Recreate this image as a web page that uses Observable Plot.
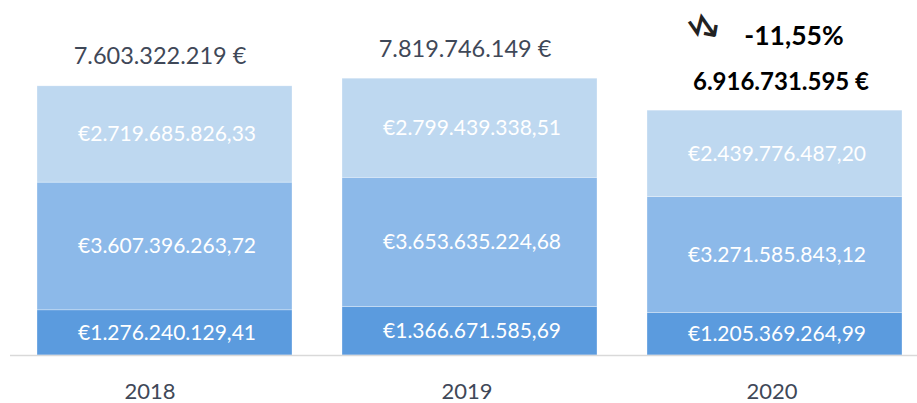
<!DOCTYPE html>
<html>
<head>
<meta charset="utf-8">
<script src="https://cdn.jsdelivr.net/npm/d3@7"></script>
<script src="https://cdn.jsdelivr.net/npm/@observablehq/plot@0.6"></script>
<style>
  html, body { margin: 0; padding: 0; background: #fff; }
  #chart svg { display: block; }
</style>
</head>
<body>
<div id="chart"></div>
<script>
const years = ["2018", "2019", "2020"];
const segmentNames = ["bottom", "middle", "top"];
const bottomValues = [1276240129.41, 1366671585.69, 1205369264.99];
const middleValues = [3607396263.72, 3653635224.68, 3271585843.12];
const topValues = [2719685826.33, 2799439338.51, 2439776487.20];
const totalLabels = ["7.603.322.219 €", "7.819.746.149 €", "6.916.731.595 €"];
const changeLabel = "-11,55%";

const locale = d3.formatLocale({decimal: ",", thousands: ".", grouping: [3], currency: ["€", ""]});
const fmt = locale.format("$,.2f");

const series = [bottomValues, middleValues, topValues];
const rows = [];
years.forEach((year, i) => {
  segmentNames.forEach((seg, j) => {
    rows.push({year, segment: seg, value: series[j][i], label: fmt(series[j][i])});
  });
});
const totals = years.map((year, i) => ({
  year,
  total: bottomValues[i] + middleValues[i] + topValues[i],
  label: totalLabels[i]
}));

const font = "Lato, 'Open Sans', sans-serif";

const chart = Plot.plot({
  width: 917,
  height: 403,
  marginLeft: 10,
  marginRight: 0,
  marginTop: 0,
  marginBottom: 48,
  style: {fontFamily: font, background: "#fff"},
  x: {domain: years, range: [10, 929.5], paddingInner: 0.165, paddingOuter: 0.085, axis: null},
  y: {domain: [0, 10e9], range: [355, 1], axis: null},
  color: {domain: segmentNames, range: ["#5b9bde", "#8cb9e9", "#bed8f0"]},
  marks: [
    Plot.barY(rows, Plot.stackY({x: "year", y: "value", fill: "segment", stroke: "#ffffff", strokeWidth: 0.6, strokeOpacity: 0.5})),
    Plot.text(rows, Plot.stackY({x: "year", y: "value", z: "segment", text: "label", fill: "#ffffff", fontSize: 21, dx: 2})),
    Plot.ruleY([0], {stroke: "#d9d9d9", strokeWidth: 1.5}),
    Plot.text(totals.filter(d => d.year !== "2020"), {x: "year", y: "total", text: "label", fill: "#3f4858", fontSize: 23.5, lineAnchor: "bottom", dy: -22, dx: -5}),
    Plot.text(totals.filter(d => d.year === "2020"), {x: "year", y: "total", text: "label", fill: "#000000", fontSize: 24, fontWeight: "bold", lineAnchor: "bottom", dy: -21, dx: 6}),
    Plot.text(totals.filter(d => d.year === "2020"), {x: "year", y: "total", text: () => changeLabel, fill: "#000000", fontSize: 26.5, fontWeight: "bold", lineAnchor: "bottom", dy: -66, dx: 19}),
    Plot.text(totals.filter(d => d.year === "2020"), {x: "year", y: "total", text: () => "↯", fill: "#222222", fontFamily: "DejaVu Sans", fontSize: 40, rotate: -45, dy: -82, dx: -70}),
    Plot.text(years.filter(d => d === "2018"), {x: d => d, y: 0, text: d => d, fill: "#3f4858", fontSize: 22, lineAnchor: "bottom", dy: 43, dx: -15}),
    Plot.text(years.filter(d => d !== "2018"), {x: d => d, y: 0, text: d => d, fill: "#3f4858", fontSize: 22, lineAnchor: "bottom", dy: 43, dx: -3})
  ]
});
document.getElementById("chart").appendChild(chart);
</script>
</body>
</html>
